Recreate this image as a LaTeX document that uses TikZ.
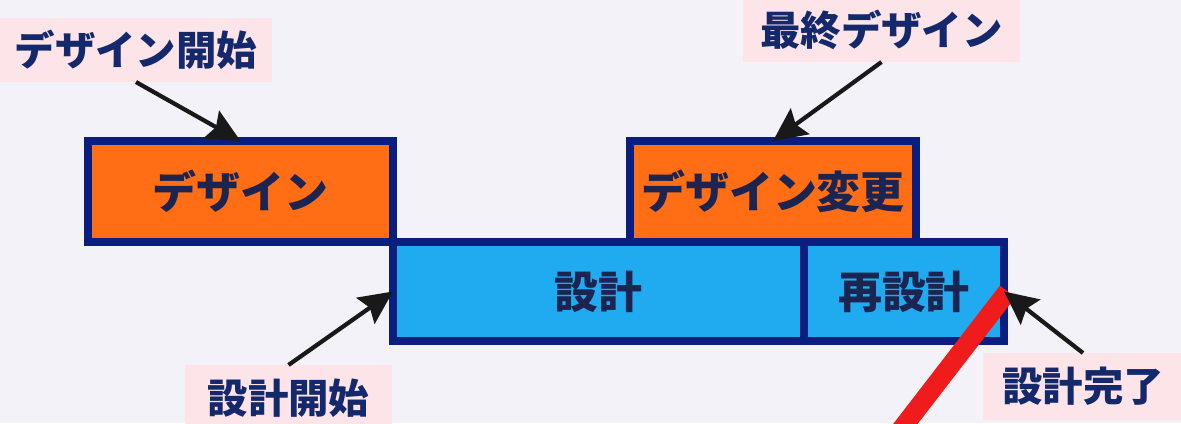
\documentclass[tikz,border=0pt]{standalone}
\usepackage{fontspec}
\newfontfamily\jpfont{Noto Sans CJK JP}
\usetikzlibrary{arrows.meta}
\definecolor{bgcol}{HTML}{F2F2F8}
\definecolor{navyline}{HTML}{0A1E80}
\definecolor{orangebox}{HTML}{FF6E14}
\definecolor{bluebox}{HTML}{20AAF0}
\definecolor{pinktag}{HTML}{FCE4E8}
\definecolor{boxtext}{HTML}{1C2452}
\definecolor{tagtext}{HTML}{14286C}
\definecolor{redline}{HTML}{F01C1C}
\tikzset{
	task/.style={draw=navyline, line width=2.2pt, inner sep=0pt, outer sep=0pt, text=boxtext, font=\jpfont\bfseries\fontsize{12.5}{12.5}\selectfont},
	designbox/.style={task, fill=orangebox},
	buildbox/.style={task, fill=bluebox},
	tag/.style={fill=pinktag, inner sep=0pt, outer sep=0pt, text=tagtext, font=\jpfont\bfseries\fontsize{11.5}{11.5}\selectfont},
	pointer/.style={-{Stealth[length=9.5pt,width=9pt,inset=1.5pt]}, line width=1.2pt, black!90}
}

\begin{document}
\begin{tikzpicture}[x=0.01cm, y=-0.01cm]
			%%%%% START %%%%%
			
			\useasboundingbox (0, 0) rectangle (1181, 423);
			\fill[bgcol] (0, 0) rectangle (1181, 423);
			\clip (0, 0) rectangle (1181, 423);
			
			% schedule bars
			\node[buildbox, minimum width=4.11cm, minimum height=0.99cm] (sekkei) at (598.5, 291.5) {設計};
			\node[buildbox, minimum width=2.00cm, minimum height=0.99cm] (resekkei) at (904, 291.5) {再設計};
			\node[designbox, minimum width=3.05cm, minimum height=1.01cm] (design) at (240.5, 191.5) {デザイン};
			\node[designbox, minimum width=2.86cm, minimum height=1.01cm] (henkou) at (773, 191.5) {デザイン変更};
			
			% milestones
			\node[tag, minimum width=2.72cm, minimum height=0.64cm] (dkaishi) at (136, 50) {デザイン開始};
			\node[tag, minimum width=2.77cm, minimum height=0.64cm] (saishu) at (881.5, 30) {最終デザイン};
			\node[tag, minimum width=2.07cm, minimum height=0.66cm] (skaishi) at (288.5, 398) {設計開始};
			\node[tag, minimum width=2.00cm, minimum height=0.67cm] (kanryou) at (1083, 386.5) {設計完了};
			
			\coordinate (redend) at (893, 440);
			\draw[redline, line width=5.5pt] ([xshift=1pt]resekkei.east) -- (redend);
			
			\draw[pointer] (dkaishi.south) -- (design.north);
			\draw[pointer] (saishu.south) -- (henkou.north);
			\draw[pointer] (skaishi.north) -- (sekkei.west);
			\draw[pointer] (kanryou.north) -- (resekkei.east);
			
			%%%%% END %%%%%
\end{tikzpicture}
\end{document}
